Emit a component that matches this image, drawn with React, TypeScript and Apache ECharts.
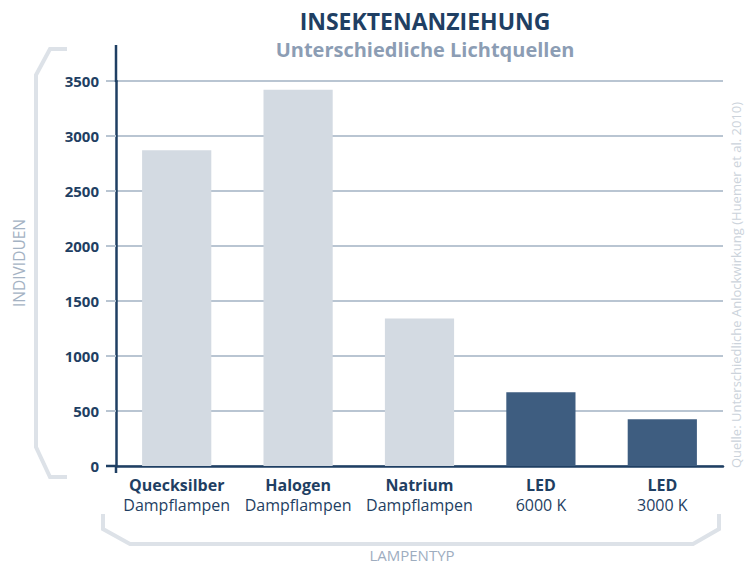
import React, { useEffect, useRef } from "react";
import * as echarts from "echarts";

const categoriesTop = ["Quecksilber", "Halogen", "Natrium", "LED", "LED"];
const categoriesBottom = ["Dampflampen", "Dampflampen", "Dampflampen", "6000 K", "3000 K"];
const values = [2870, 3420, 1340, 670, 425];
const barColors = ["#d3dae2", "#d3dae2", "#d3dae2", "#3e5d80", "#3e5d80"];
const yTicks = [0, 500, 1000, 1500, 2000, 2500, 3000, 3500];

const NAVY = "#1f3f63";
const GRID = "#b9c5d2";
const BRACKET = "#dde2e8";
const FONT = "'Open Sans', 'Noto Sans', sans-serif";

export default function App() {
  const ref = useRef<HTMLDivElement>(null);
  useEffect(() => {
    if (!ref.current) return;
    const chart = echarts.init(ref.current, null, { renderer: "svg" });
    chart.setOption({
      animation: false,
      textStyle: { fontFamily: FONT },
      grid: { left: 116, right: 22, top: 81, bottom: 99, containLabel: false },
      xAxis: {
        type: "category",
        data: categoriesTop.map((c, i) => c + "\n" + categoriesBottom[i]),
        axisLine: { show: true, lineStyle: { color: NAVY, width: 2.5 } },
        axisTick: { show: false },
        axisLabel: {
          margin: 9,
          interval: 0,
          formatter: (_v: string, i: number) => `{b|${categoriesTop[i]}}\n{r|${categoriesBottom[i]}}`,
          rich: {
            b: { fontFamily: FONT, fontSize: 16, fontWeight: "bold", color: NAVY, lineHeight: 20 },
            r: { fontFamily: FONT, fontSize: 16, color: NAVY, lineHeight: 20 },
          },
        },
      },
      yAxis: {
        type: "value",
        min: yTicks[0],
        max: yTicks[yTicks.length - 1],
        interval: 500,
        axisLine: { show: true, lineStyle: { color: NAVY, width: 2.5 } },
        axisTick: { show: true, length: 10, lineStyle: { color: GRID, width: 2 } },
        splitLine: { show: true, lineStyle: { color: GRID, width: 2 } },
        axisLabel: {
          margin: 17,
          fontFamily: FONT,
          fontSize: 15,
          fontWeight: "bold",
          color: NAVY,
          formatter: (v: number) => String(v),
        },
      },
      series: [
        {
          type: "bar",
          barWidth: "57%",
          data: values.map((v, i) => ({ value: v, itemStyle: { color: barColors[i] } })),
          z: 1,
        },
      ],
      graphic: [
        {
          type: "text",
          x: 425,
          y: 21,
          style: {
            text: "INSEKTENANZIEHUNG",
            fontFamily: FONT,
            fontSize: 23,
            fontWeight: "bold",
            fill: NAVY,
            align: "center",
            verticalAlign: "middle",
          },
        },
        {
          type: "text",
          x: 425,
          y: 49,
          style: {
            text: "Unterschiedliche Lichtquellen",
            fontFamily: FONT,
            fontSize: 20,
            fontWeight: "bold",
            fill: "#8c9db4",
            align: "center",
            verticalAlign: "middle",
          },
        },
        {
          type: "text",
          x: 19,
          y: 263,
          rotation: Math.PI / 2,
          style: {
            text: "INDIVIDUEN",
            fontFamily: FONT,
            fontSize: 15.5,
            fill: "#a4b2c3",
            align: "center",
            verticalAlign: "middle",
          },
        },
        {
          type: "text",
          x: 412,
          y: 555,
          style: {
            text: "LAMPENTYP",
            fontFamily: FONT,
            fontSize: 15,
            lineHeight: 15,
            fill: "#9eadbf",
            align: "center",
            verticalAlign: "middle",
          },
        },
        {
          type: "text",
          x: 736,
          y: 285,
          rotation: Math.PI / 2,
          style: {
            text: "Quelle: Unterschiedliche Anlockwirkung (Huemer et al. 2010)",
            fontFamily: FONT,
            fontSize: 13,
            fill: "#ccd3db",
            align: "center",
            verticalAlign: "middle",
          },
        },
        {
          type: "polyline",
          shape: { points: [[67, 49], [50, 49], [36, 75], [36, 447], [50, 477], [67, 477]] },
          style: { stroke: BRACKET, lineWidth: 4, fill: "none" },
        },
        {
          type: "polyline",
          shape: { points: [[103, 514], [103, 529], [130, 544], [693, 544], [719, 529], [719, 514]] },
          style: { stroke: BRACKET, lineWidth: 4, fill: "none" },
        },
        {
          type: "line",
          shape: { x1: 116, y1: 45, x2: 116, y2: 82 },
          style: { stroke: NAVY, lineWidth: 2.5 },
          z: 10,
        },
        {
          type: "line",
          shape: { x1: 116, y1: 466, x2: 116, y2: 473 },
          style: { stroke: NAVY, lineWidth: 2.5 },
          z: 10,
        },
        {
          type: "line",
          shape: { x1: 106, y1: 466, x2: 117, y2: 466 },
          style: { stroke: NAVY, lineWidth: 2.5 },
          z: 10,
        },
      ],
    });
    return () => chart.dispose();
  }, []);
  return <div ref={ref} style={{ width: 745, height: 565, position: "absolute", left: 0, top: 0 }} />;
}
